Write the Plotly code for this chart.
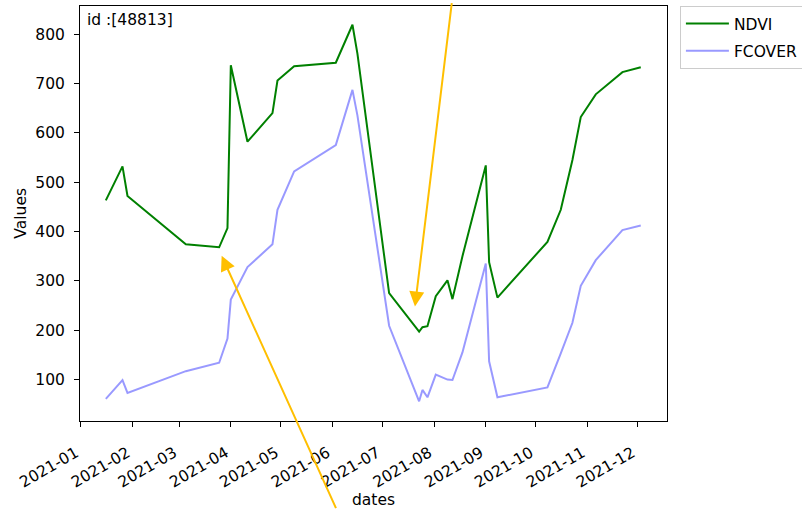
import plotly.graph_objects as go

# Acquisition dates and index values (scaled x1000) for parcel 48813
dates = [
    "2021-01-16", "2021-01-26", "2021-01-29", "2021-03-05", "2021-03-25",
    "2021-03-30", "2021-04-01", "2021-04-11", "2021-04-26", "2021-04-29",
    "2021-05-09", "2021-06-03", "2021-06-13", "2021-06-16", "2021-07-05",
    "2021-07-23", "2021-07-25", "2021-07-28", "2021-08-02", "2021-08-09",
    "2021-08-12", "2021-08-18", "2021-09-01", "2021-09-03", "2021-09-08",
    "2021-10-08", "2021-10-16", "2021-10-23", "2021-10-28", "2021-11-06",
    "2021-11-22", "2021-12-03",
]
ndvi = [
    463, 532, 472, 374, 368,
    407, 737, 582, 640, 706,
    735, 742, 819, 760, 275,
    197, 206, 208, 269, 301,
    263, 350, 534, 338, 266,
    379, 444, 545, 632, 678,
    723, 733,
]
fcover = [
    61, 99, 73, 117, 134,
    183, 262, 328, 374, 444,
    522, 575, 687, 635, 209,
    56, 79, 64, 110, 100,
    99, 155, 335, 137, 64,
    84, 153, 215, 290, 342,
    403, 412,
]
parcel_id = 48813

# Events marked with arrows: (date, value)
event_dates = ["2021-03-26 12:00", "2021-07-20 12:00"]
event_values = [351, 248]

y_ticks = [100, 200, 300, 400, 500, 600, 700, 800]

FONT = "DejaVu Sans"
FS = 15.5
ARROW = "#FFBF00"

fig = go.Figure()
fig.add_trace(go.Scatter(x=dates, y=ndvi, mode="lines", name="NDVI",
                         line=dict(color="#008000", width=2),
                         legendgroup="a"))
fig.add_trace(go.Scatter(x=dates, y=fcover, mode="lines", name="FCOVER",
                         line=dict(color="rgba(0,0,255,0.4)", width=2),
                         legendgroup="b"))

axis_common = dict(
    showline=True, linecolor="black", linewidth=1, mirror=True,
    showgrid=False, zeroline=False,
    ticks="outside", ticklen=5, tickwidth=1, tickcolor="black",
    tickfont=dict(family=FONT, size=FS, color="black"),
)

fig.update_xaxes(
    range=["2020-12-31 12:00", "2021-12-18 18:00"],
    tick0="2021-01-01", dtick="M1", tickformat="%Y-%m",
    tickangle=-30, ticklabelstandoff=11, ticklabelshift=-5,
    **axis_common,
)
fig.update_yaxes(range=[16, 857], tickvals=y_ticks, ticklabelstandoff=6,
                 **axis_common)

annotations = [
    dict(text="id :[%d]" % parcel_id, xref="paper", yref="paper",
         x=0.008, y=0.966, xanchor="left", yanchor="middle",
         showarrow=False, font=dict(family=FONT, size=FS, color="black")),
    dict(text="Values", xref="paper", yref="paper", x=-0.102, y=0.5,
         textangle=-90, showarrow=False, xanchor="center", yanchor="middle",
         font=dict(family=FONT, size=FS, color="black")),
    dict(text="dates", xref="paper", yref="paper", x=0.5, y=-0.19,
         showarrow=False, xanchor="center", yanchor="middle",
         font=dict(family=FONT, size=FS, color="black")),
]
# Arrows pointing at the two events, tails running to the page edge
tails = [(115, 254), (37, -305)]
for d, v, (ax, ay) in zip(event_dates, event_values, tails):
    annotations.append(dict(
        x=d, y=v, xref="x", yref="y", text="", showarrow=True,
        ax=ax, ay=ay, axref="pixel", ayref="pixel",
        arrowhead=2, arrowsize=1.5, arrowwidth=2, arrowcolor=ARROW,
        standoff=0,
    ))

fig.update_layout(
    width=802, height=510,
    margin=dict(l=80, r=135, t=6, b=89, autoexpand=False),
    plot_bgcolor="white", paper_bgcolor="white",
    font=dict(family=FONT, size=FS, color="black"),
    showlegend=True,
    legend=dict(x=1.022, y=1.0, xanchor="left", yanchor="top",
                bordercolor="#cccccc", borderwidth=1, bgcolor="white",
                font=dict(family=FONT, size=FS, color="black"),
                itemwidth=43, tracegroupgap=4),
    annotations=annotations,
)

fig.write_html("out.html")
